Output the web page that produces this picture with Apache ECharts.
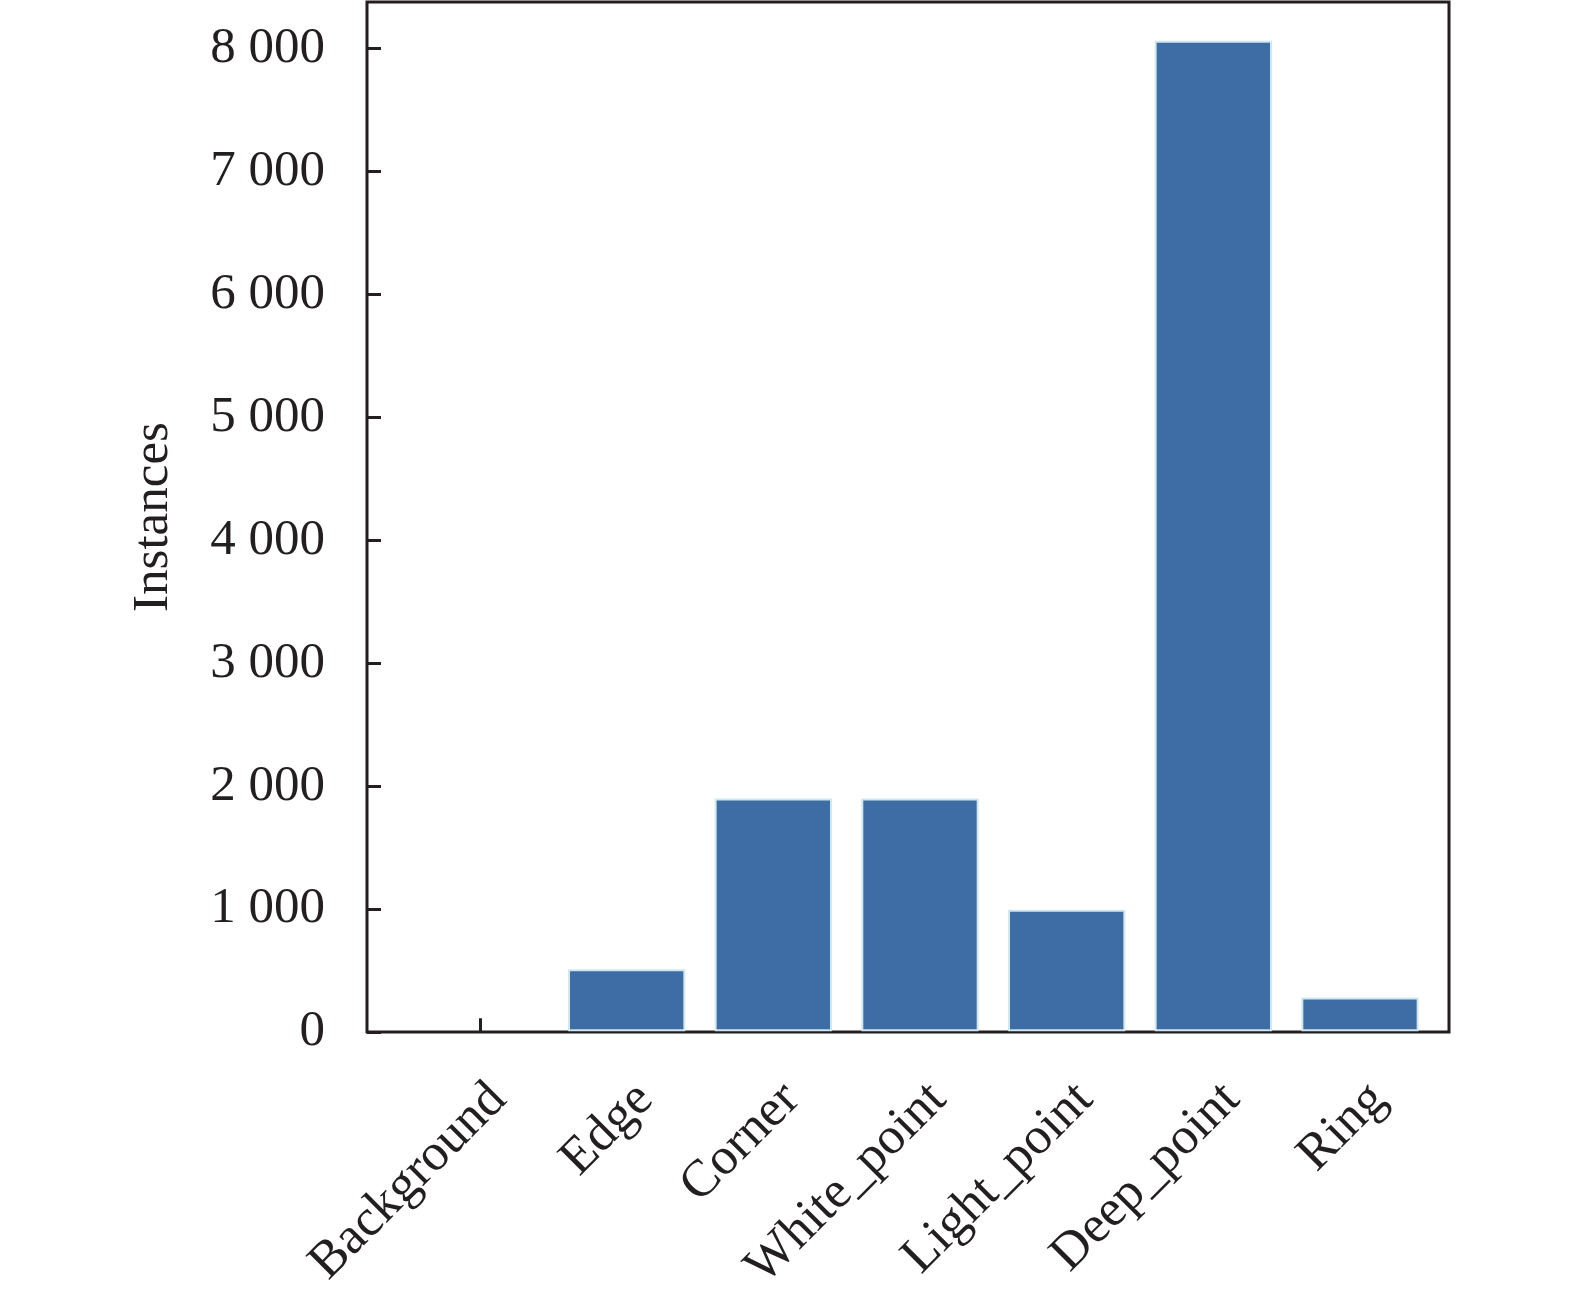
<!DOCTYPE html>
<html>
<head>
<meta charset="utf-8">
<title>Instances per class</title>
<script src="https://cdn.jsdelivr.net/npm/echarts@6/dist/echarts.min.js"></script>
<style>
  html, body { margin: 0; padding: 0; background: #fff; }
  #chart { width: 1575px; height: 1296px; }
</style>
</head>
<body>
<div id="chart"></div>
<script>
  'use strict';

  // data
  var categories = ['Background', 'Edge', 'Corner', 'White_point', 'Light_point', 'Deep_point', 'Ring'];
  var instances = [0, 505, 1895, 1895, 990, 8065, 275];
  var yMin = 0;
  var yMax = 8380;
  var yStep = 1000;

  var ink = '#231f20';
  var serif = '"Liberation Serif", "Times New Roman", serif';

  function spaced(v) {
    return String(v).replace(/\B(?=(\d{3})+(?!\d))/g, ' ');
  }

  // empty bars get no outline, otherwise a hairline shows on the axis
  var barData = instances.map(function (v) {
    return v > 0 ? v : { value: v, itemStyle: { borderWidth: 0, opacity: 0 } };
  });

  var chart = echarts.init(document.getElementById('chart'));

  chart.setOption({
    backgroundColor: '#fff',
    animation: false,
    grid: [
      // frame + value axis
      { left: 367, right: 126, top: 2, bottom: 264, show: true, borderColor: ink, borderWidth: 3, backgroundColor: 'transparent' },
      // bars, placed so category centres land on the ticks
      { left: 406.67, right: 141.67, top: 2, bottom: 264 }
    ],
    xAxis: [
      { gridIndex: 0, type: 'value', show: false, min: 0, max: 1 },
      {
        gridIndex: 1,
        type: 'category',
        data: categories,
        boundaryGap: true,
        axisLine: { show: false },
        axisTick: { show: true, inside: true, alignWithLabel: true, length: 13, lineStyle: { color: ink, width: 3 } },
        axisLabel: {
          rotate: 45,
          margin: 42,
          interval: 0,
          verticalAlign: 'top',
          color: ink,
          fontFamily: serif,
          fontSize: 52
        },
        splitLine: { show: false }
      }
    ],
    yAxis: [
      {
        gridIndex: 0,
        type: 'value',
        min: yMin,
        max: yMax,
        interval: yStep,
        name: 'Instances',
        nameLocation: 'middle',
        nameRotate: 90,
        nameGap: 188,
        nameTextStyle: { color: ink, fontFamily: serif, fontSize: 51 },
        axisLine: { show: false },
        axisTick: { show: true, inside: true, length: 14, lineStyle: { color: ink, width: 3 } },
        axisLabel: {
          margin: 42,
          showMaxLabel: false,
          color: ink,
          fontFamily: serif,
          fontSize: 51,
          formatter: function (v) {
            return v % yStep === 0 ? spaced(v) : '';
          }
        },
        splitLine: { show: false }
      },
      { gridIndex: 1, type: 'value', show: false, min: yMin, max: yMax }
    ],
    series: [
      {
        type: 'bar',
        xAxisIndex: 1,
        yAxisIndex: 1,
        data: barData,
        barCategoryGap: '20%',
        itemStyle: { color: '#3d6da4', borderColor: '#cfe8ed', borderWidth: 2 }
      }
    ]
  });

  window.addEventListener('resize', function () {
    chart.resize();
  });
</script>
</body>
</html>
